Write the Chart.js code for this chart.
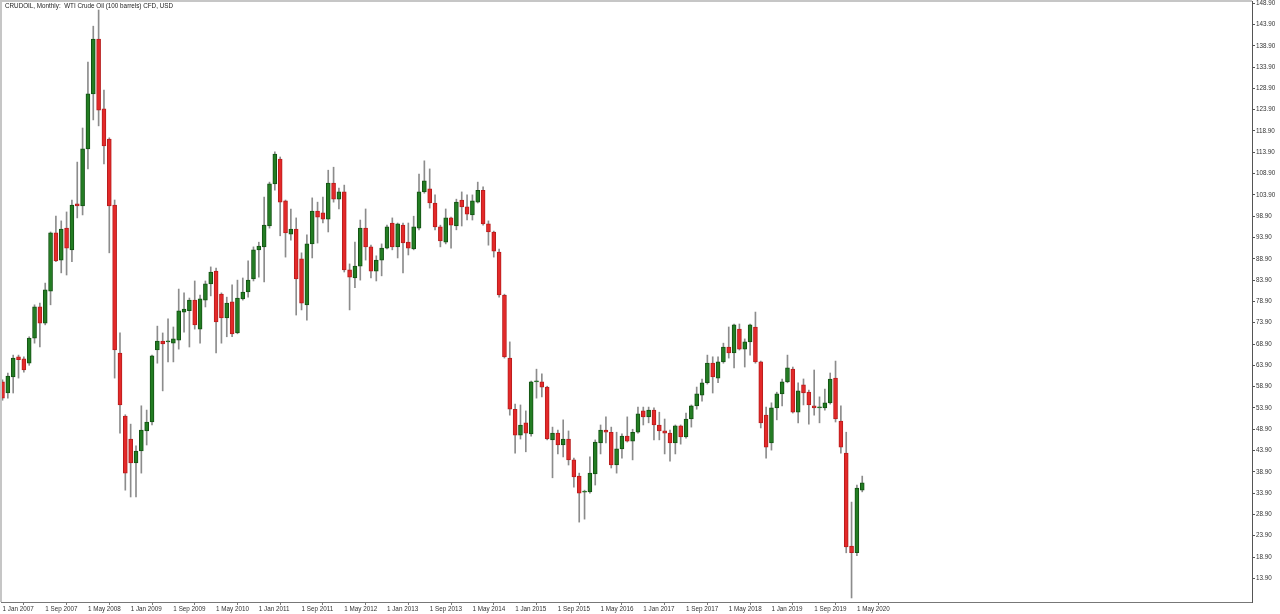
<!DOCTYPE html>
<html>
<head>
<meta charset="utf-8">
<title>CRUDOIL Monthly</title>
<script src="https://cdn.jsdelivr.net/npm/chart.js@4.4.1/dist/chart.umd.min.js"></script>
<style>
    html, body { margin: 0; padding: 0; background: #fff; }
    canvas { display: block; }
</style>
</head>
<body>
<canvas id="main_chart" width="1280" height="614"></canvas>
<script>
const chartTitle = 'CRUDOIL, Monthly:  WTI Crude Oil (100 barrels) CFD, USD';

// monthly candles, Jan 2007 .. Jun 2020 (one row per year)
const open = [
    60.0, 57.4, 61.2, 65.9, 65.4, 64.4, 70.3, 77.6, 73.8, 81.3, 95.0, 88.6,
    96.1, 91.0, 101.8, 101.3, 114.7, 127.6, 140.5, 124.1, 117.0, 101.5, 66.8, 52.0,
    46.6, 41.0, 43.8, 48.5, 50.6, 67.5, 69.6, 69.4, 69.1, 69.8, 76.4, 76.7,
    79.2, 72.4, 79.2, 83.0, 86.0, 80.6, 75.0, 78.8, 71.5, 79.5, 81.1, 84.2,
    91.0, 91.7, 96.6, 106.5, 112.3, 102.5, 94.7, 95.9, 88.9, 78.1, 92.4, 100.1,
    99.7, 98.2, 106.7, 102.9, 104.6, 86.3, 84.4, 87.2, 96.1, 91.7, 86.0, 88.6,
    91.4, 97.3, 91.7, 96.8, 92.8, 91.2, 96.1, 104.6, 105.3, 102.0, 96.4, 92.8,
    98.5, 96.6, 102.7, 101.1, 99.2, 102.2, 105.0, 97.1, 95.2, 90.5, 80.4, 65.6,
    53.6, 47.5, 50.4, 47.8, 60.0, 60.0, 58.8, 46.4, 48.0, 45.2, 46.6, 41.7,
    37.9, 34.1, 34.2, 38.4, 45.7, 48.7, 48.2, 40.5, 44.3, 47.3, 46.1, 48.2,
    53.2, 51.8, 53.4, 49.9, 48.5, 48.0, 45.7, 49.7, 47.1, 51.3, 54.4, 56.9,
    59.8, 64.4, 60.9, 64.7, 68.2, 66.8, 72.4, 67.7, 69.4, 72.9, 64.7, 52.2,
    45.7, 53.9, 57.2, 60.0, 63.0, 52.9, 59.3, 57.6, 54.4, 53.9, 53.9, 55.1,
    60.9, 50.8, 43.3, 21.5, 19.9, 34.6
];
const high = [
    60.5, 62.1, 66.3, 66.3, 65.9, 70.6, 78.1, 78.5, 83.2, 95.2, 98.9, 97.8,
    99.9, 102.7, 111.6, 119.6, 135.1, 143.5, 147.3, 128.5, 117.3, 102.7, 71.5, 52.3,
    50.1, 45.0, 54.4, 53.4, 66.3, 73.1, 71.5, 74.8, 72.9, 81.8, 80.9, 79.7,
    83.7, 80.4, 83.7, 87.0, 86.7, 80.9, 79.9, 82.8, 83.9, 84.4, 88.4, 91.7,
    92.8, 103.4, 106.9, 114.0, 112.8, 102.7, 100.6, 98.5, 90.3, 94.5, 103.2, 102.2,
    103.4, 109.7, 110.4, 105.5, 106.2, 87.7, 92.8, 98.0, 100.6, 92.1, 89.6, 92.4,
    96.8, 98.5, 97.3, 97.3, 97.3, 98.9, 108.8, 111.9, 110.0, 103.9, 96.8, 100.6,
    98.7, 102.9, 104.6, 103.9, 103.9, 106.9, 105.8, 97.8, 95.4, 91.2, 80.6, 69.4,
    54.8, 54.6, 53.2, 60.2, 63.0, 61.9, 59.0, 49.4, 48.7, 51.1, 48.5, 42.1,
    38.6, 34.6, 42.4, 46.4, 49.9, 51.8, 49.4, 48.2, 47.8, 51.8, 48.9, 54.1,
    54.1, 54.1, 53.9, 52.9, 51.3, 48.7, 49.9, 49.9, 52.7, 54.6, 58.8, 60.7,
    66.3, 65.9, 65.9, 69.1, 72.9, 73.6, 73.6, 70.1, 73.6, 76.4, 64.9, 54.1,
    55.1, 57.6, 60.7, 66.3, 63.5, 59.8, 60.7, 58.1, 62.8, 56.5, 58.3, 62.1,
    64.9, 54.4, 48.2, 31.8, 35.8, 37.9
];
const low = [
    55.7, 56.2, 57.4, 60.9, 62.3, 63.9, 69.1, 68.2, 73.4, 78.1, 88.2, 85.6,
    85.1, 88.2, 98.5, 99.2, 110.0, 121.5, 120.1, 111.2, 90.3, 60.9, 48.0, 34.6,
    33.0, 33.0, 38.6, 45.2, 49.9, 64.4, 57.9, 64.7, 64.7, 67.7, 71.7, 68.2,
    72.4, 69.1, 77.6, 80.2, 66.8, 69.1, 70.6, 70.6, 71.3, 79.2, 79.9, 83.7,
    84.6, 83.5, 96.1, 105.0, 94.3, 89.3, 93.3, 75.7, 76.9, 74.5, 89.1, 92.6,
    97.3, 95.2, 102.2, 100.6, 85.8, 76.9, 82.1, 83.9, 88.6, 84.4, 83.7, 84.9,
    91.2, 91.0, 89.1, 85.6, 89.8, 91.0, 95.7, 104.3, 100.8, 95.7, 91.7, 92.4,
    91.4, 95.7, 96.6, 98.0, 98.0, 102.0, 96.8, 92.1, 89.3, 79.9, 65.6, 52.2,
    43.3, 46.6, 43.6, 47.3, 56.2, 56.5, 46.4, 37.5, 43.1, 42.4, 40.5, 35.3,
    27.1, 27.8, 33.9, 35.8, 43.1, 45.7, 39.8, 38.6, 42.1, 45.9, 41.7, 48.0,
    49.9, 50.4, 46.4, 46.4, 43.1, 41.4, 43.1, 45.4, 46.8, 49.4, 53.6, 55.5,
    59.5, 57.4, 59.8, 64.4, 65.6, 63.3, 67.5, 63.5, 66.3, 64.4, 49.2, 42.1,
    44.0, 51.1, 54.4, 59.8, 52.7, 50.4, 54.6, 50.1, 52.2, 50.4, 53.4, 54.8,
    50.6, 43.3, 19.9, 9.3, 19.2, 34.2
];
const close = [
    56.2, 61.4, 65.6, 65.2, 62.8, 70.3, 77.6, 73.8, 81.6, 95.0, 88.4, 95.9,
    91.4, 101.5, 101.3, 114.7, 127.6, 140.5, 123.8, 115.4, 101.3, 67.5, 54.6, 38.6,
    41.0, 43.8, 48.7, 50.6, 66.1, 69.6, 68.9, 69.5, 70.1, 76.7, 77.1, 79.2,
    73.4, 79.5, 83.0, 85.8, 74.1, 75.0, 78.5, 71.3, 79.7, 81.1, 83.9, 91.0,
    91.9, 96.8, 106.5, 113.5, 102.2, 95.0, 95.9, 84.2, 78.5, 92.4, 100.1, 98.7,
    98.2, 106.7, 102.9, 104.6, 86.3, 84.6, 87.2, 96.1, 91.7, 86.0, 88.6, 91.4,
    96.4, 91.7, 97.1, 92.6, 91.4, 96.4, 104.6, 107.2, 102.0, 96.4, 93.1, 98.5,
    96.8, 102.2, 101.1, 99.4, 102.5, 105.0, 97.1, 95.2, 90.7, 80.4, 65.9, 53.6,
    47.5, 49.9, 48.0, 60.0, 60.2, 58.8, 46.6, 48.0, 45.2, 46.6, 41.7, 37.7,
    33.9, 34.4, 38.6, 45.9, 48.7, 48.2, 40.5, 44.3, 47.3, 46.1, 48.2, 52.5,
    51.8, 53.4, 49.9, 48.5, 48.0, 45.7, 49.7, 47.1, 51.3, 54.4, 57.2, 59.8,
    64.4, 61.2, 64.7, 68.2, 66.8, 73.4, 67.7, 69.4, 73.4, 64.7, 50.4, 44.7,
    53.9, 57.2, 60.0, 63.3, 52.9, 57.9, 57.4, 54.6, 53.9, 54.0, 55.1, 60.7,
    51.3, 44.7, 21.3, 19.9, 35.1, 36.3
];

// one date label every 8 months, starting at the first candle
const xTickLabels = [
    '1 Jan 2007', '1 Sep 2007', '1 May 2008', '1 Jan 2009', '1 Sep 2009', '1 May 2010',
    '1 Jan 2011', '1 Sep 2011', '1 May 2012', '1 Jan 2013', '1 Sep 2013', '1 May 2014',
    '1 Jan 2015', '1 Sep 2015', '1 May 2016', '1 Jan 2017', '1 Sep 2017', '1 May 2018',
    '1 Jan 2019', '1 Sep 2019', '1 May 2020'
];
const xTickStep = 8;
const yTicks = [
    148.9, 143.9, 138.9, 133.9, 128.9, 123.9, 118.9, 113.9, 108.9, 103.9,
    98.9, 93.9, 88.9, 83.9, 78.9, 73.9, 68.9, 63.9, 58.9, 53.9,
    48.9, 43.9, 38.9, 33.9, 28.9, 23.9, 18.9, 13.9
];

const UP = '#237d23', UP_EDGE = '#135213';
const DOWN = '#e32929', DOWN_EDGE = '#b81d1d';
const WICK = '#8c8c8c';
const FONT = 'Liberation Sans';

Chart.defaults.font.family = FONT;

const frame = {
    id: 'frame',
    beforeDraw(chart) {
        const ctx = chart.ctx;
        ctx.save();
        ctx.fillStyle = '#ffffff';
        ctx.fillRect(0, 0, chart.width, chart.height);
        ctx.restore();
    },
    afterDraw(chart) {
        const ctx = chart.ctx;
        const area = chart.chartArea;
        ctx.save();
        ctx.strokeStyle = '#c6c6c6';
        ctx.lineWidth = 2;
        ctx.beginPath();
        ctx.moveTo(0, 1);
        ctx.lineTo(area.right, 1);
        ctx.moveTo(1, 0);
        ctx.lineTo(1, area.bottom);
        ctx.stroke();
        ctx.fillStyle = '#222';
        ctx.font = '6.3px "' + FONT + '"';
        ctx.textBaseline = 'top';
        ctx.fillText(chartTitle, 5, 3);
        ctx.restore();
    }
};

let isUp = open.map((o, i) => close[i] >= o);

new Chart(document.getElementById('main_chart'), {
    type: 'bar',
    data: {
        datasets: [
            {
                label: 'Body',
                data: open.map((o, i) => ({x: i, y: [o, close[i]]})),
                backgroundColor: isUp.map(u => u ? UP : DOWN),
                borderColor: isUp.map(u => u ? UP_EDGE : DOWN_EDGE),
                borderWidth: 1,
                borderSkipped: false,
                barThickness: 4,
                minBarLength: 1,
                grouped: false,
                order: 0
            }, {
                label: 'Wick',
                data: low.map((l, i) => ({x: i, y: [l, high[i]]})),
                backgroundColor: WICK,
                borderWidth: 0,
                barThickness: 1,
                grouped: false,
                order: 1
            }
        ]
    },
    plugins: [frame],
    options: {
        responsive: false,
        animation: false,
        layout: {
            padding: {left: 1, top: 1, right: 0, bottom: 0}
        },
        plugins: {
            legend: {display: false},
            tooltip: {enabled: false},
            title: {display: false}
        },
        scales: {
            x: {
                type: 'linear',
                min: -0.28,
                max: 233.99,
                offset: false,
                bounds: 'data',
                grid: {drawOnChartArea: false, tickLength: 3, color: '#777'},
                border: {display: true, color: '#777'},
                ticks: {
                    autoSkip: false,
                    maxRotation: 0,
                    align: 'start',
                    padding: 0,
                    color: '#333',
                    font: {size: 6.3},
                    callback: (value, index) => xTickLabels[index]
                },
                afterBuildTicks: (scale) => {
                    scale.ticks = xTickLabels.map((_, k) => ({value: k * xTickStep}));
                },
                afterFit: (scale) => {
                    scale.height = 12;
                    scale.paddingLeft = 0;
                    scale.paddingRight = 0;
                }
            },
            y: {
                type: 'linear',
                position: 'right',
                min: 8.35,
                max: 149.41,
                bounds: 'data',
                grid: {drawOnChartArea: false, tickLength: 3, color: '#555'},
                border: {display: true, color: '#555'},
                ticks: {
                    padding: 1,
                    color: '#333',
                    font: {size: 6.3},
                    callback: (value) => value.toFixed(2)
                },
                afterBuildTicks: (scale) => {
                    scale.ticks = yTicks.map(v => ({value: v}));
                },
                afterFit: (scale) => {
                    scale.width = 28;
                    scale.paddingTop = 0;
                    scale.paddingBottom = 0;
                }
            }
        }
    }
});
</script>
</body>
</html>
